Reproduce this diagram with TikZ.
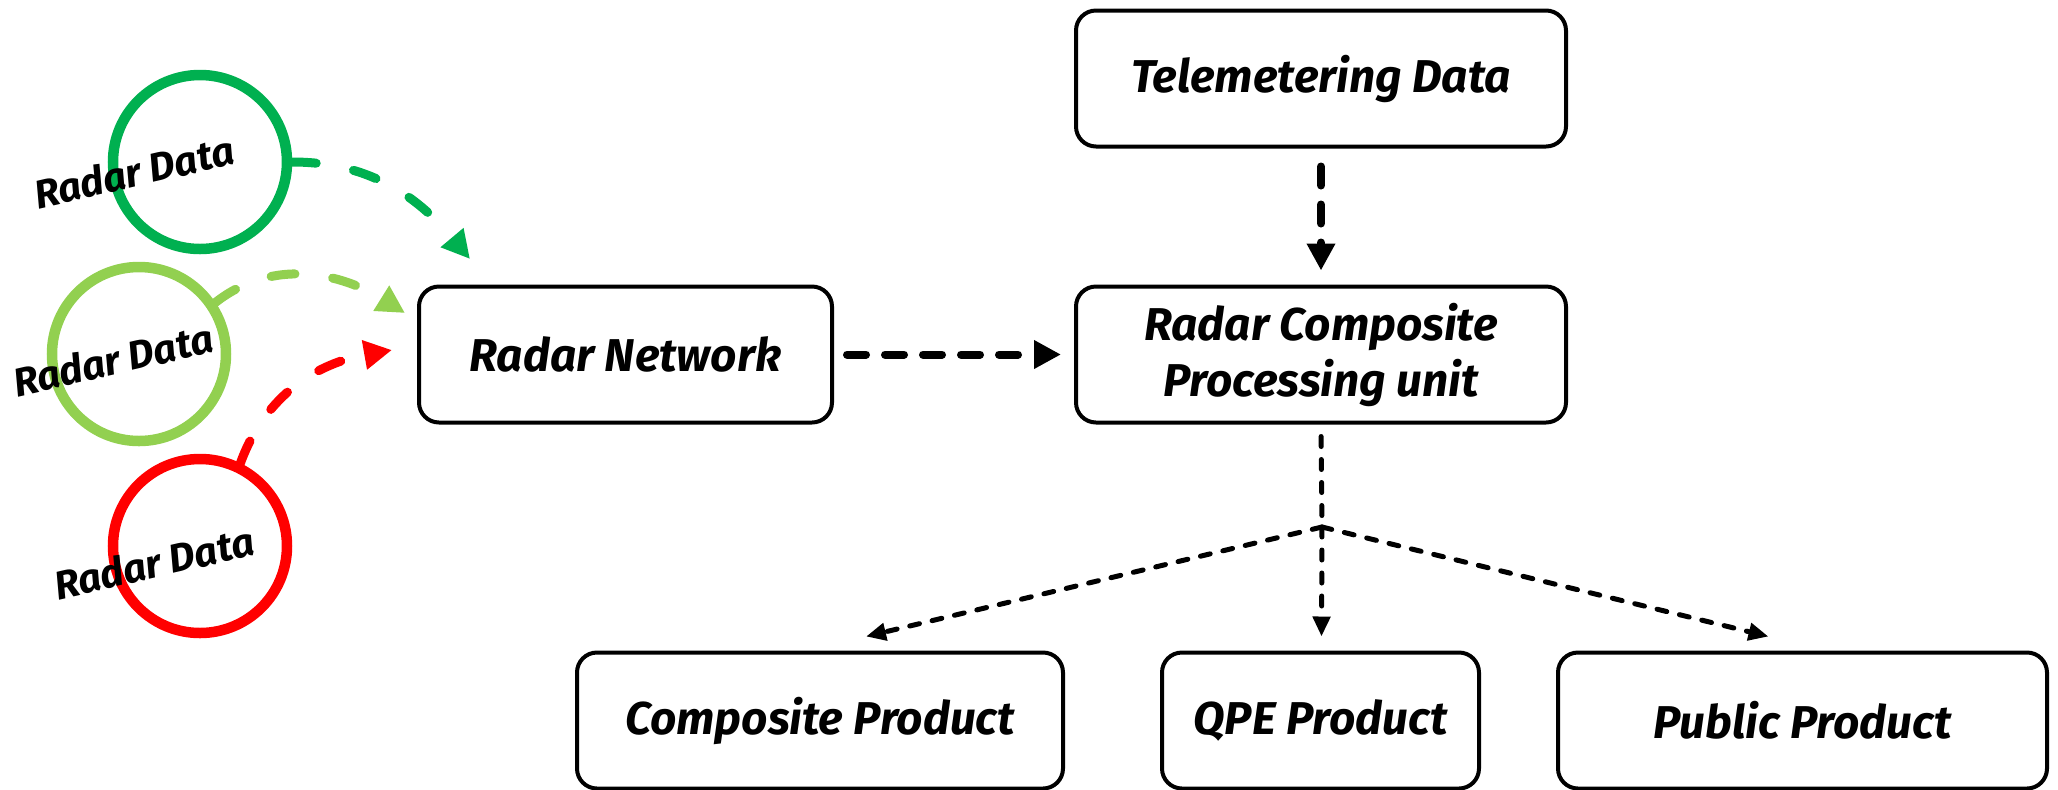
\documentclass[tikz,border=0pt]{standalone}
\usepackage{fontspec}
\setmainfont{Fira Sans}
\usetikzlibrary{arrows.meta}
\definecolor{dgreen}{HTML}{00B050}
\definecolor{lgreen}{HTML}{92D050}
\definecolor{rred}{HTML}{FF0000}
\begin{document}
\begin{tikzpicture}[x=0.5pt,y=-0.5pt,
  box/.style={draw=black, line width=2pt, rounded corners=10pt, minimum height=68pt, align=center, font=\fontsize{23}{28}\selectfont\bfseries\itshape, inner sep=0pt},
  radar/.style={circle, draw, line width=5.25pt, minimum size=87pt, inner sep=0pt},
  rlabel/.style={rotate=13, font=\fontsize{20}{24}\selectfont\bfseries\itshape, inner sep=0pt},
  bigdash/.style={line width=4pt, line cap=round, dash pattern=on 9.5pt off 9.5pt, -{Triangle[length=13.5pt,width=13.5pt]}},
  coldash/.style={line width=4.5pt, line cap=round, dash pattern=on 12pt off 19pt, -{Triangle[length=14pt,width=14pt]}},
  thindash/.style={line width=2.5pt, line cap=round, dash pattern=on 5pt off 6.5pt},
  thinarrow/.style={thindash, -{Triangle[length=10pt,width=8.5pt]}}
]
\useasboundingbox (0,0) rectangle (2058,789);

% boxes
\node[box, minimum width=245pt] (tel) at (1321,78.5) {Telemetering Data};
\node[box, minimum width=245pt] (rcp) at (1321,354.5) {Radar Composite\\Processing unit};
\node[box, minimum width=206.5pt] (rn) at (625.5,354.5) {Radar Network};
\node[box, minimum width=243pt] (cp) at (820,720.5) {Composite Product};
\node[box, minimum width=158.5pt] (qpe) at (1320.5,720.5) {QPE Product};
\node[box, minimum width=244.5pt] (pp) at (1802.5,720.5) {Public Product};

% radar circles
\node[radar, draw=dgreen] (c1) at (200,162) {};
\node[radar, draw=lgreen] (c2) at (139,354) {};
\node[radar, draw=rred] (c3) at (200,546) {};
\node[rlabel] (l1) at (134,172) {Radar Data};
\node[rlabel] (l2) at (113,360) {Radar Data};
\node[rlabel] (l3) at (154,563) {Radar Data};

% free ends of the coloured arrows
\coordinate (t1) at (470,259);
\coordinate (t2) at (405,313);
\coordinate (t3) at (392,350);
\coordinate (j) at (1322,527);

\draw[coldash, dgreen] (c1.east) to[out=0,in=130] (t1);
\draw[coldash, lgreen] (c2.34) to[out=38,in=148] (t2);
\draw[coldash, rred] (c3.64) to[out=70,in=190] (t3);

% black arrows
\draw[bigdash, shorten <=6.5pt, shorten >=6.5pt] (rn.east) -- (rcp.west);
\draw[bigdash, shorten <=9pt, shorten >=7pt] (tel.south) -- (rcp.north);
\draw[thindash, shorten <=6pt] (rcp.south) -- (j);
\draw[thinarrow] (j) -- ([xshift=23pt,yshift=7pt]cp.north);
\draw[thinarrow] (j) -- ([xshift=0.5pt,yshift=7pt]qpe.north);
\draw[thinarrow] (j) -- ([xshift=-17pt,yshift=7pt]pp.north);
\end{tikzpicture}
\end{document}
